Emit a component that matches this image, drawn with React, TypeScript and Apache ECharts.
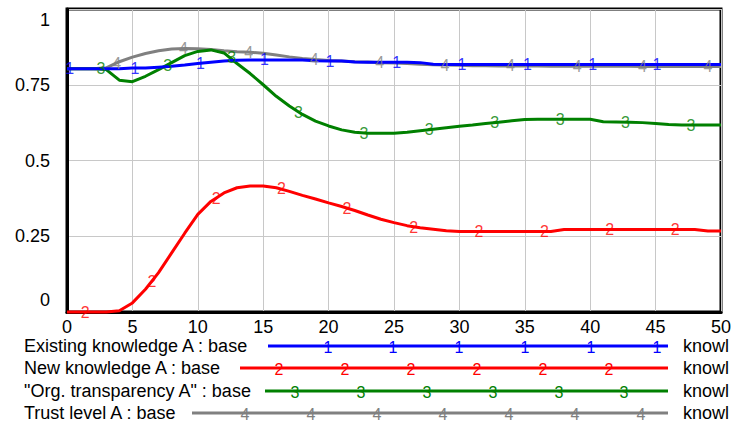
import React, { useEffect, useRef } from "react";
import * as echarts from "echarts";

const FONT = '"Liberation Sans", Arial, sans-serif';

const TIME = [0, 1, 2, 3, 4, 5, 6, 7, 8, 9, 10, 11, 12, 13, 14, 15, 16, 17, 18, 19, 20, 21, 22, 23, 24, 25, 26, 27, 28, 29, 30, 31, 32, 33, 34, 35, 36, 37, 38, 39, 40, 41, 42, 43, 44, 45, 46, 47, 48, 49, 50];

const EXISTING = [0.803, 0.803, 0.803, 0.803, 0.803, 0.805, 0.805, 0.808, 0.811, 0.815, 0.82, 0.824, 0.828, 0.831, 0.832, 0.832, 0.832, 0.832, 0.832, 0.829, 0.828, 0.828, 0.825, 0.824, 0.824, 0.824, 0.824, 0.823, 0.818, 0.817, 0.817, 0.817, 0.817, 0.817, 0.817, 0.817, 0.817, 0.817, 0.817, 0.817, 0.817, 0.817, 0.817, 0.817, 0.817, 0.817, 0.817, 0.817, 0.817, 0.817, 0.817];

const NEW_KNOWLEDGE = [0, 0, 0, 0, 0.004, 0.03, 0.075, 0.13, 0.195, 0.26, 0.322, 0.365, 0.393, 0.41, 0.416, 0.416, 0.41, 0.398, 0.385, 0.373, 0.36, 0.348, 0.335, 0.32, 0.306, 0.295, 0.285, 0.278, 0.273, 0.268, 0.266, 0.266, 0.266, 0.266, 0.266, 0.266, 0.266, 0.266, 0.272, 0.272, 0.272, 0.272, 0.272, 0.272, 0.272, 0.272, 0.272, 0.272, 0.272, 0.267, 0.267];

const ORG_TRANSPARENCY = [0.803, 0.803, 0.803, 0.8, 0.765, 0.76, 0.778, 0.8, 0.823, 0.846, 0.86, 0.865, 0.855, 0.82, 0.787, 0.75, 0.712, 0.68, 0.652, 0.63, 0.614, 0.601, 0.593, 0.59, 0.59, 0.59, 0.593, 0.598, 0.603, 0.608, 0.613, 0.617, 0.622, 0.626, 0.631, 0.635, 0.636, 0.636, 0.636, 0.636, 0.636, 0.628, 0.627, 0.626, 0.625, 0.622, 0.619, 0.617, 0.617, 0.617, 0.617];

const TRUST = [0.803, 0.803, 0.803, 0.806, 0.826, 0.841, 0.853, 0.862, 0.868, 0.87, 0.869, 0.866, 0.862, 0.859, 0.857, 0.854, 0.848, 0.842, 0.837, 0.833, 0.83, 0.828, 0.826, 0.825, 0.823, 0.822, 0.82, 0.818, 0.816, 0.815, 0.814, 0.813, 0.813, 0.812, 0.812, 0.812, 0.812, 0.811, 0.811, 0.811, 0.811, 0.811, 0.811, 0.811, 0.81, 0.81, 0.81, 0.81, 0.81, 0.81, 0.81];

const EXISTING_MARK_T = [0.2, 5.2, 10.2, 15.1, 20.1, 25.2, 30.2, 35.2, 40.2, 45.1];
const EXISTING_MARK_V = [0.803, 0.805, 0.821, 0.832, 0.828, 0.824, 0.817, 0.817, 0.817, 0.817];
const NEW_MARK_T = [1.4, 6.5, 11.4, 16.4, 21.4, 26.5, 31.5, 36.5, 41.5, 46.5];
const NEW_MARK_V = [0, 0.1, 0.375, 0.406, 0.343, 0.28, 0.266, 0.266, 0.272, 0.272];
const ORG_MARK_T = [2.6, 7.7, 12.6, 17.7, 22.7, 27.7, 32.7, 37.7, 42.7, 47.7];
const ORG_MARK_V = [0.803, 0.815, 0.84, 0.66, 0.59, 0.601, 0.625, 0.636, 0.626, 0.617];
const TRUST_MARK_T = [3.8, 8.9, 13.9, 18.9, 23.9, 28.9, 33.9, 39, 44, 49];
const TRUST_MARK_V = [0.82, 0.87, 0.857, 0.834, 0.823, 0.815, 0.812, 0.811, 0.811, 0.81];

const X_MIN = 0;
const X_MAX = 50;
const X_STEP = 5;
const Y_MIN = 0;
const Y_MAX = 1;
const Y_STEP = 0.25;

const LEGEND_NAMES = ["Existing knowledge A : base", "New knowledge A : base", '"Org. transparency A" : base', "Trust level A : base"];
const LEGEND_DIGITS = ["1", "2", "3", "4"];
const UNIT = "knowl";
const COLORS = ["#0000ff", "#ff0000", "#008000", "#808080"];

// legend layout (pixels)
const LEG_ROW_Y = [346, 368, 391, 413];
const LEG_LINE_X0 = [268, 240, 265, 192];
const LEG_LINE_X1 = 668;
const LEG_MARK_X = [
  [328, 393, 459, 525, 591, 657],
  [279, 345, 411, 477, 543, 609],
  [295, 361, 427, 493, 559, 624],
  [245, 311, 377, 443, 509, 575, 641],
];

function zip(t: number[], v: number[]) {
  return t.map((x, i) => [x, v[i]]);
}

export default function App() {
  const ref = useRef<HTMLDivElement>(null);
  useEffect(() => {
    if (!ref.current) return;
    const chart = echarts.init(ref.current, null, { renderer: "svg" });

    const lineSeries = (name: string, data: number[], color: string, z: number) => ({
      name,
      type: "line",
      data: zip(TIME, data),
      showSymbol: false,
      symbol: "none",
      clip: false,
      z,
      lineStyle: { color, width: 3 },
      silent: true,
    });
    const markSeries = (t: number[], v: number[], digit: string, color: string, z: number) => ({
      type: "scatter",
      data: zip(t, v),
      symbol: "circle",
      symbolSize: 1,
      clip: false,
      z,
      silent: true,
      itemStyle: { color: "rgba(0,0,0,0)" },
      label: {
        show: true,
        position: "inside",
        formatter: digit,
        color,
        fontSize: 16,
        lineHeight: 14,
        fontFamily: FONT,
      },
    });

    const graphics: any[] = [];
    LEGEND_NAMES.forEach((name, i) => {
      const y = LEG_ROW_Y[i];
      graphics.push({
        type: "text",
        x: 24,
        y,
        style: {
          text: name,
          font: `18px ${FONT}`,
          fill: "#000",
          lineHeight: 17,
          textVerticalAlign: "middle",
          verticalAlign: "middle",
        },
        silent: true,
      });
      graphics.push({
        type: "line",
        shape: { x1: LEG_LINE_X0[i], y1: y, x2: LEG_LINE_X1, y2: y },
        style: { stroke: COLORS[i], lineWidth: 3 },
        silent: true,
      });
      LEG_MARK_X[i].forEach((mx) => {
        graphics.push({
          type: "text",
          x: mx,
          y: y + 1,
          style: {
            text: LEGEND_DIGITS[i],
            font: `16px ${FONT}`,
            fill: COLORS[i],
            lineHeight: 14,
            textAlign: "center",
            textVerticalAlign: "middle",
            align: "center",
            verticalAlign: "middle",
          },
          silent: true,
        });
      });
      graphics.push({
        type: "text",
        x: 683,
        y,
        style: {
          text: UNIT,
          font: `18px ${FONT}`,
          fill: "#000",
          lineHeight: 17,
          textVerticalAlign: "middle",
          verticalAlign: "middle",
        },
        silent: true,
      });
    });

    chart.setOption({
      animation: false,
      backgroundColor: "#fff",
      grid: {
        left: 67,
        right: 10,
        top: 9,
        bottom: 111,
        show: true,
        borderColor: "#000",
        borderWidth: 3,
        backgroundColor: "transparent",
      },
      xAxis: {
        type: "value",
        min: X_MIN,
        max: X_MAX,
        interval: X_STEP,
        axisLine: { show: true, lineStyle: { color: "#000", width: 3 } },
        axisTick: { show: false },
        splitLine: { show: true, lineStyle: { color: "#c8c8c8", width: 1 } },
        axisLabel: { color: "#000", fontSize: 18, lineHeight: 16, fontFamily: FONT, margin: 7 },
      },
      yAxis: {
        type: "value",
        min: Y_MIN,
        max: Y_MAX,
        interval: Y_STEP,
        axisLine: { show: true, lineStyle: { color: "#000", width: 3 } },
        axisTick: { show: false },
        splitLine: { show: true, lineStyle: { color: "#c8c8c8", width: 1 } },
        axisLabel: {
          color: "#000",
          fontSize: 18,
          fontFamily: FONT,
          margin: 17,
          formatter: (v: number) => (v === Y_MIN ? `{lo|${v}}` : v === Y_MAX ? `{hi|${v}}` : `${v}`),
          rich: {
            lo: { fontSize: 18, fontFamily: FONT, color: "#000", padding: [0, 0, 24, 0] },
            hi: { fontSize: 18, fontFamily: FONT, color: "#000", padding: [22, 0, 0, 0] },
          },
        },
      },
      series: [
        lineSeries("Trust level A", TRUST, COLORS[3], 2),
        lineSeries("Org. transparency A", ORG_TRANSPARENCY, COLORS[2], 3),
        lineSeries("New knowledge A", NEW_KNOWLEDGE, COLORS[1], 4),
        lineSeries("Existing knowledge A", EXISTING, COLORS[0], 5),
        markSeries(TRUST_MARK_T, TRUST_MARK_V, "4", COLORS[3], 6),
        markSeries(ORG_MARK_T, ORG_MARK_V, "3", COLORS[2], 6),
        markSeries(NEW_MARK_T, NEW_MARK_V, "2", COLORS[1], 6),
        markSeries(EXISTING_MARK_T, EXISTING_MARK_V, "1", COLORS[0], 6),
      ],
      graphic: graphics,
    });
    return () => chart.dispose();
  }, []);
  return (
    <div
      ref={ref}
      style={{ position: "absolute", left: 0, top: 0, width: 734, height: 423, background: "#fff" }}
    />
  );
}
